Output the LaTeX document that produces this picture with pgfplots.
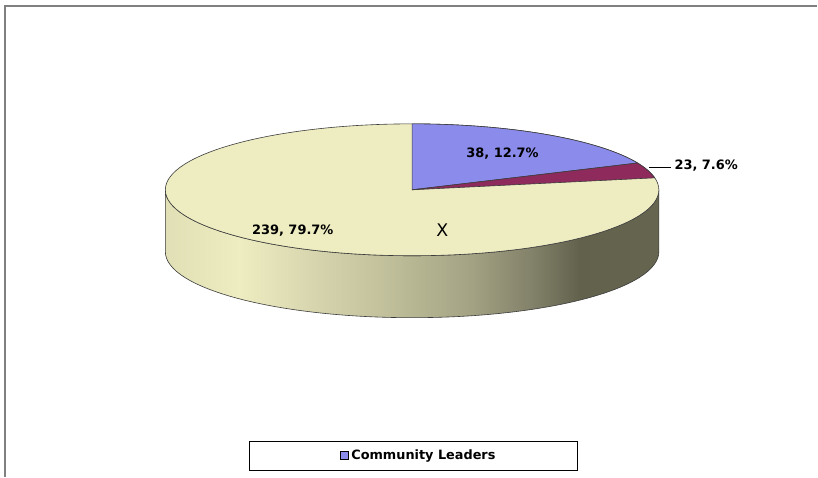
\documentclass[border=0pt]{standalone}
\usepackage{pgfplots}
\pgfplotsset{compat=1.18}
\usepackage{fontspec}
\setmainfont{DejaVu Sans}
\definecolor{sliceblue}{HTML}{8B8BEC}
\definecolor{slicemaroon}{HTML}{8E2A5C}
\definecolor{slicebeige}{HTML}{EEEDC2}
\definecolor{edge}{HTML}{3C3C3C}
\definecolor{frame}{HTML}{808080}
\definecolor{sA}{HTML}{E0DFB5}
\definecolor{sB}{HTML}{EEEDC1}
\definecolor{sC}{HTML}{D6D5AE}
\definecolor{sD}{HTML}{C2C19C}
\definecolor{sE}{HTML}{A3A283}
\definecolor{sF}{HTML}{83826A}
\definecolor{sG}{HTML}{62614C}
\definecolor{sH}{HTML}{66654F}
\pgfdeclarehorizontalshading{sidewall}{100bp}{%
  color(0bp)=(sA);
  color(25bp)=(sA);
  color(32.5bp)=(sB);
  color(40bp)=(sC);
  color(47bp)=(sD);
  color(56bp)=(sE);
  color(62bp)=(sF);
  color(67bp)=(sG);
  color(75bp)=(sH);
  color(100bp)=(sH)}
% slice values (from labels) and the angles at which they are drawn
% value  pct   start  end (parametric degrees on the ellipse)
%  38    12.7   90     24
%  23     7.6   24     10.5
% 239    79.7   10.5  -270
\begin{document}
\begin{tikzpicture}
\begin{axis}[x=1bp, y=1bp, xmin=0, xmax=818, ymin=0, ymax=477,
  hide axis, clip=false]
  \fill[white] (axis cs:0,0) rectangle (axis cs:818,477);
  % frame
  \draw[frame, line width=1.6bp] (axis cs:5,0) -- (axis cs:5,471) -- (axis cs:818,471);
  % side wall
  \shade[shading=sidewall, draw=edge, line width=0.6bp]
    (axis cs:165.5,287) -- (axis cs:165.5,225)
    arc[start angle=180, end angle=360, x radius=247bp, y radius=66bp]
    -- (axis cs:659.5,287)
    arc[start angle=0, end angle=-180, x radius=247bp, y radius=66bp] -- cycle;
  % top face: beige slice (239, 79.7%)
  \filldraw[fill=slicebeige, draw=edge, line width=0.6bp]
    (axis cs:412.5,287) ellipse [x radius=247bp, y radius=66bp];
  % blue slice (38, 12.7%)
  \filldraw[fill=sliceblue, draw=edge, line width=0.6bp]
    (axis cs:412.5,287) -- (axis cs:412.5,353)
    arc[start angle=90, end angle=24, x radius=247bp, y radius=66bp] -- cycle;
  % maroon slice (23, 7.6%)
  \filldraw[fill=slicemaroon, draw=edge, line width=0.6bp]
    (axis cs:412.5,287) -- (axis cs:638.1,313.8)
    arc[start angle=24, end angle=10.5, x radius=247bp, y radius=66bp] -- cycle;
  % labels
  \node[font=\fontsize{13}{15}\selectfont\bfseries] at (axis cs:503,323) {38, 12.7\%};
  \node[font=\fontsize{13}{15}\selectfont\bfseries] at (axis cs:293,246.5) {239, 79.7\%};
  \node[font=\fontsize{17.5}{19}\selectfont] at (axis cs:442.8,247) {X};
  \draw[black, line width=1.1bp] (axis cs:650,309) -- (axis cs:672,309);
  \node[anchor=west, inner sep=0pt, font=\fontsize{13}{15}\selectfont\bfseries] at (axis cs:675,311) {23, 7.6\%};
  % legend
  \draw[black, line width=0.8bp, fill=white] (axis cs:250,6) rectangle (axis cs:578,35);
  \filldraw[fill=sliceblue, draw=black, line width=0.9bp] (axis cs:340.5,17.5) rectangle (axis cs:348.5,25.5);
  \node[anchor=west, inner sep=0pt, font=\fontsize{12.9}{15}\selectfont\bfseries] at (axis cs:351.5,21) {Community Leaders};
\end{axis}
\end{tikzpicture}
\end{document}
